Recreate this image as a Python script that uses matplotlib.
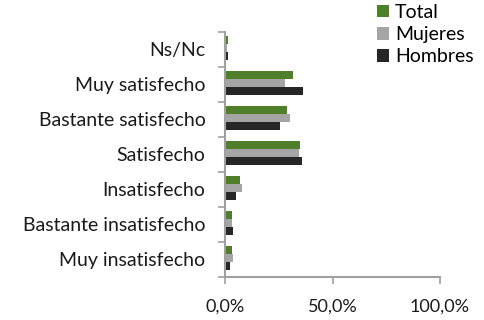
import matplotlib
matplotlib.use("Agg")
import matplotlib.pyplot as plt
import numpy as np

categories = ["Muy insatisfecho", "Bastante insatisfecho", "Insatisfecho",
              "Satisfecho", "Bastante satisfecho", "Muy satisfecho", "Ns/Nc"]
total = [2.8, 3.0, 6.5, 34.7, 28.5, 31.0, 1.0]
mujeres = [3.2, 3.0, 7.5, 34.0, 30.0, 27.5, 0.5]
hombres = [2.0, 3.2, 4.6, 35.3, 25.0, 36.0, 0.8]
xticks = [0, 50, 100]
xticklabels = ["0,0%", "50,0%", "100,0%"]

plt.rcParams['font.family'] = ['Lato', 'DejaVu Sans']

fig = plt.figure(figsize=(4.84, 3.2), dpi=100)
ax = fig.add_axes([0.465, 0.135, 0.444, 0.765])

y = np.arange(len(categories))
h = 0.23
c_tot, c_muj, c_hom = "#4F7F2B", "#A5A5A5", "#262626"
ax.barh(y - h + 0.05, hombres, height=h, color=c_hom, label="Hombres", left=0.4)
ax.barh(y + 0.05, mujeres, height=h, color=c_muj, label="Mujeres", left=0.4)
ax.barh(y + h + 0.05, total, height=h, color=c_tot, label="Total", left=0.4)

ax.set_xlim(0, 100)
ax.set_ylim(-0.5, 6.5)
ax.set_yticks(np.arange(-0.5, 7, 1))
ax.set_yticklabels([])
ax.set_yticks(y, minor=True)
ax.set_yticklabels(categories, minor=True, fontsize=14, color="#1a1a1a")
ax.tick_params(axis="y", which="minor", length=0, pad=14)
ax.tick_params(axis="y", which="major", length=5, color="#A0A0A0", width=1.2)
ax.set_xticks(xticks)
ax.set_xticklabels(xticklabels, fontsize=13, color="#1a1a1a")
ax.tick_params(axis="x", length=5, color="#A0A0A0", width=1.2, pad=11)

for s in ["top", "right"]:
    ax.spines[s].set_visible(False)
for s in ["left", "bottom"]:
    ax.spines[s].set_color("#A0A0A0")
    ax.spines[s].set_linewidth(1.5)

handles, labels = ax.get_legend_handles_labels()
leg = fig.legend(handles[::-1], labels[::-1], loc="upper left",
                 bbox_to_anchor=(377 / 484, 1 - 4 / 320), frameon=False, fontsize=14,
                 handlelength=0.62, handleheight=0.62, handletextpad=0.3,
                 labelspacing=0.26, borderaxespad=0, borderpad=0)

fig.savefig("out.png", dpi=100)
